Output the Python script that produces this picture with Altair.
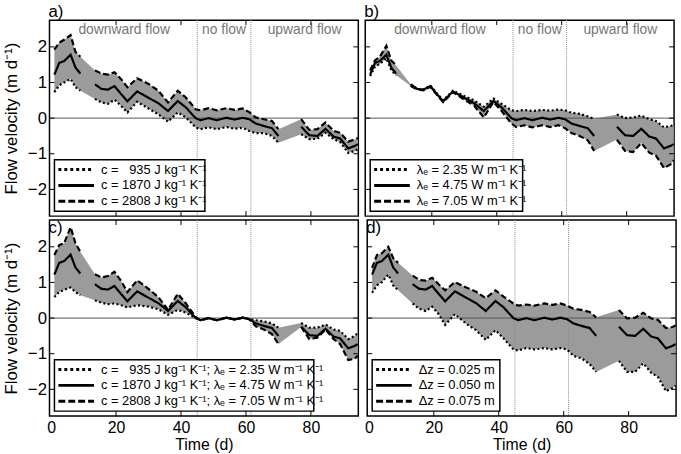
import altair as alt
import pandas as pd

# Sampling days of the estimated flow velocities (three logging periods with gaps)
DAYS = [1, 2.5, 4, 6, 7.5, 9,
        13.5, 15.5, 17.5, 19.5, 21.5, 23.5, 26.5, 30, 33, 36, 39, 41.5, 44.5, 46,
        48.5, 51, 54, 56.5, 59, 61, 63, 65.5, 68, 70,
        77, 79.5, 82, 84.5, 87, 89, 91.5, 93.5, 94.5]
SEGMENT = [1] * 6 + [2] * 24 + [3] * 9

# Base case: c = 1870 J/kg/K, lambda_e = 4.75 W/m/K, dz = 0.050 m
BASE = [1.22, 1.55, 1.60, 1.78, 1.42, 1.25,
        0.95, 0.82, 0.80, 0.90, 0.68, 0.47, 0.75, 0.57, 0.42, 0.20, 0.48, 0.30, 0.00, -0.06,
        0.00, -0.06, 0.01, -0.04, 0.01, -0.03, -0.15, -0.22, -0.28, -0.50,
        -0.24, -0.48, -0.50, -0.30, -0.52, -0.57, -0.85, -0.78, -0.73]

# a) heat capacity
A_C935 = [0.73, 0.92, 1.00, 1.10, 0.87, 0.77,
          0.54, 0.44, 0.40, 0.52, 0.35, 0.16, 0.46, 0.27, 0.11, -0.10, 0.16, 0.02, -0.26, -0.31,
          -0.26, -0.31, -0.25, -0.30, -0.27, -0.36, -0.42, -0.42, -0.50, -0.69,
          -0.45, -0.59, -0.58, -0.41, -0.59, -0.67, -0.98, -0.92, -0.87]
A_C2808 = [1.92, 2.12, 2.20, 2.33, 1.86, 1.72,
           1.34, 1.25, 1.22, 1.29, 1.10, 0.87, 1.12, 0.96, 0.77, 0.44, 0.77, 0.58, 0.25, 0.22,
           0.28, 0.22, 0.28, 0.23, 0.27, 0.17, 0.02, -0.03, -0.08, -0.31,
           -0.03, -0.33, -0.31, -0.12, -0.36, -0.41, -0.66, -0.60, -0.56]

# b) thermal conductivity
B_L235 = [1.18, 1.45, 1.52, 1.68, 1.35, 1.20,
          0.93, 0.82, 0.81, 0.92, 0.70, 0.50, 0.77, 0.62, 0.50, 0.32, 0.55, 0.40, 0.22, 0.20,
          0.23, 0.20, 0.23, 0.21, 0.24, 0.22, 0.15, 0.12, 0.05, -0.02,
          0.10, 0.00, 0.02, 0.07, -0.03, -0.08, -0.26, -0.22, -0.20]
B_L705 = [1.34, 1.62, 1.72, 2.03, 1.62, 1.48,
          0.90, 0.80, 0.78, 0.88, 0.66, 0.45, 0.73, 0.52, 0.35, 0.02, 0.45, 0.20, -0.15, -0.25,
          -0.20, -0.26, -0.20, -0.25, -0.20, -0.28, -0.42, -0.50, -0.62, -0.92,
          -0.60, -0.92, -0.95, -0.70, -0.97, -1.05, -1.40, -1.30, -1.18]

# c) heat capacity and thermal conductivity combined
C_LOW = [0.59, 0.73, 0.79, 0.86, 0.73, 0.64,
         0.50, 0.43, 0.39, 0.41, 0.36, 0.30, 0.36, 0.32, 0.25, 0.09, 0.23, 0.15, 0.00, -0.06,
         0.00, -0.06, 0.01, -0.04, 0.01, -0.03, -0.06, -0.09, -0.15, -0.27,
         -0.14, -0.27, -0.27, -0.18, -0.32, -0.36, -0.59, -0.50, -0.41]
C_HIGH = [1.77, 2.05, 2.10, 2.55, 2.10, 1.86,
          1.23, 1.14, 1.18, 1.30, 1.05, 0.73, 1.06, 0.82, 0.59, 0.23, 0.68, 0.41, 0.03, -0.06,
          0.00, -0.06, 0.01, -0.04, 0.01, -0.03, -0.23, -0.32, -0.45, -0.73,
          -0.25, -0.59, -0.55, -0.32, -0.59, -0.73, -1.18, -1.14, -1.05]

# d) sensor spacing
D_DZ025 = [0.71, 0.92, 1.01, 1.22, 0.92, 0.78,
           0.41, 0.26, 0.20, 0.32, 0.11, -0.19, 0.11, -0.16, -0.34, -0.61, -0.34, -0.57, -0.88, -0.91,
           -0.84, -0.88, -0.84, -0.88, -0.84, -0.88, -1.06, -1.13, -1.29, -1.51,
           -1.20, -1.51, -1.51, -1.27, -1.54, -1.65, -2.05, -1.96, -1.90]
D_DZ075 = [1.41, 1.77, 1.82, 2.00, 1.68, 1.55,
           1.19, 1.07, 1.05, 1.13, 0.95, 0.78, 1.01, 0.86, 0.74, 0.56, 0.78, 0.60, 0.41, 0.35,
           0.38, 0.35, 0.41, 0.37, 0.41, 0.35, 0.26, 0.23, 0.17, 0.02,
           0.23, -0.01, 0.01, 0.15, -0.01, -0.05, -0.28, -0.25, -0.21]

# Flow regimes
REGIME_EDGES = [0, 45, 61.5, 94.6]
REGIME_NAMES = ["downward flow", "no flow", "upward flow"]

X_TICKS = [0, 20, 40, 60, 80]
Y_TICKS = [-2, -1, 0, 1, 2]

LEGEND_A = ["c = \u2007935 J kg\u207b\u00b9 K\u207b\u00b9",
            "c = 1870 J kg\u207b\u00b9 K\u207b\u00b9",
            "c = 2808 J kg\u207b\u00b9 K\u207b\u00b9"]
LEGEND_B = ["\u03bb\u2091 = 2.35 W m\u207b\u00b9 K\u207b\u00b9",
            "\u03bb\u2091 = 4.75 W m\u207b\u00b9 K\u207b\u00b9",
            "\u03bb\u2091 = 7.05 W m\u207b\u00b9 K\u207b\u00b9"]
LEGEND_C = ["c = \u2007935 J kg\u207b\u00b9 K\u207b\u00b9; \u03bb\u2091 = 2.35 W m\u207b\u00b9 K\u207b\u00b9",
            "c = 1870 J kg\u207b\u00b9 K\u207b\u00b9; \u03bb\u2091 = 4.75 W m\u207b\u00b9 K\u207b\u00b9",
            "c = 2808 J kg\u207b\u00b9 K\u207b\u00b9; \u03bb\u2091 = 7.05 W m\u207b\u00b9 K\u207b\u00b9"]
LEGEND_D = ["\u0394z = 0.025 m", "\u0394z = 0.050 m", "\u0394z = 0.075 m"]

W, H = 312, 198
FONT = "Liberation Sans"
SERIES = ["low", "base", "high"]
PLOT_DASH = [[2, 2.5], [1, 0], [6, 3]]
KEY_DASH = [[3, 3], [1, 0], [7, 3]]

dummy = pd.DataFrame({"k": [0]})


def panel(low, high, labels, box_w, tag, top, left):
    xs = alt.Scale(domain=[-0.5, 94.6], nice=False, zero=False)
    ys = alt.Scale(domain=[-2.75, 2.75], nice=False, zero=False)
    xaxis = None if top else alt.Axis(values=X_TICKS, title="Time (d)", ticks=False, domain=False,
                                      grid=False, labelFontSize=16, titleFontSize=16,
                                      titleFontWeight="normal", labelFont=FONT, titleFont=FONT,
                                      labelPadding=4, titlePadding=1, format="d")
    yaxis = alt.Axis(values=Y_TICKS, title="Flow velocity (m d\u207b\u00b9)", ticks=False,
                     domain=False, grid=False, labelFontSize=17, titleFontSize=17,
                     titleFontWeight="normal", labelFont=FONT, titleFont=FONT,
                     labelPadding=3, titlePadding=7, format="d") if left else None

    def X(field="day"):
        return alt.X(f"{field}:Q", scale=xs, axis=xaxis)

    def Y(field="v"):
        return alt.Y(f"{field}:Q", scale=ys, axis=yaxis)

    rows = []
    for name, vals in zip(SERIES, (low, BASE, high)):
        for d, s, v in zip(DAYS, SEGMENT, vals):
            rows.append({"day": d, "seg": s, "v": v, "series": name})
    lines_df = pd.DataFrame(rows)
    band_df = pd.DataFrame({
        "day": DAYS,
        "v": [min(t) for t in zip(low, BASE, high)],
        "hi": [max(t) for t in zip(low, BASE, high)],
    })

    layers = []
    layers.append(alt.Chart(band_df).mark_area(color="#9b9b9b", opacity=1)
                  .encode(x=X(), y=Y(), y2="hi:Q"))
    layers.append(alt.Chart(pd.DataFrame({"v": [0]}))
                  .mark_rule(color="#555555", strokeWidth=1).encode(y=Y()))
    layers.append(alt.Chart(pd.DataFrame({"day": REGIME_EDGES[1:3]}))
                  .mark_rule(color="#8a8a8a", strokeWidth=1, strokeDash=[1, 1]).encode(x=X()))
    layers.append(alt.Chart(lines_df).mark_line(color="black", strokeWidth=2.2).encode(
        x=X(), y=Y(),
        strokeDash=alt.StrokeDash("series:N", scale=alt.Scale(domain=SERIES, range=PLOT_DASH),
                                  legend=None),
        detail="seg:N", order="day:Q"))

    if top:
        centers = [(REGIME_EDGES[i] + REGIME_EDGES[i + 1]) / 2 for i in range(3)]
        reg_df = pd.DataFrame({"day": centers, "name": REGIME_NAMES})
        layers.append(alt.Chart(reg_df).mark_text(fontSize=14, color="#777777", font=FONT,
                                                  baseline="middle")
                      .encode(x=X(), y=alt.value(10), text="name:N"))

    # key box
    layers.append(alt.Chart(dummy).mark_rect(fill="white", stroke="black", strokeWidth=1.5)
                  .encode(x=alt.value(5), x2=alt.value(5 + box_w),
                          y=alt.value(141), y2=alt.value(193)))
    for i, (lab, dash) in enumerate(zip(labels, KEY_DASH)):
        yy = 151 + 16 * i
        layers.append(alt.Chart(dummy).mark_rule(color="black", strokeWidth=3, strokeDash=dash)
                      .encode(x=alt.value(9), x2=alt.value(45), y=alt.value(yy)))
        layers.append(alt.Chart(dummy).mark_text(align="left", baseline="middle", fontSize=13,
                                                 font=FONT, color="black")
                      .encode(x=alt.value(52), y=alt.value(yy), text=alt.value(lab)))

    # inward ticks on all four sides
    xt = pd.DataFrame({"day": X_TICKS[1:]})
    yt = pd.DataFrame({"v": Y_TICKS})
    layers.append(alt.Chart(xt).mark_rule(color="black", strokeWidth=1)
                  .encode(x=X(), y=alt.value(H), y2=alt.value(H - 5)))
    layers.append(alt.Chart(xt).mark_rule(color="black", strokeWidth=1)
                  .encode(x=X(), y=alt.value(0), y2=alt.value(5)))
    layers.append(alt.Chart(yt).mark_rule(color="black", strokeWidth=1)
                  .encode(y=Y(), x=alt.value(0), x2=alt.value(5)))
    layers.append(alt.Chart(yt).mark_rule(color="black", strokeWidth=1)
                  .encode(y=Y(), x=alt.value(W), x2=alt.value(W - 5)))

    layers.append(alt.Chart(dummy).mark_text(align="left", baseline="alphabetic", fontSize=17,
                                             font=FONT, color="black")
                  .encode(x=alt.value(-1), y=alt.value(-3 if top else 13), text=alt.value(tag)))

    return alt.layer(*layers).properties(width=W, height=H)


pa = panel(A_C935, A_C2808, LEGEND_A, 152, "a)", True, True)
pb = panel(B_L235, B_L705, LEGEND_B, 154, "b)", True, False)
pc = panel(C_LOW, C_HIGH, LEGEND_C, 262, "c)", False, True)
pd_ = panel(D_DZ025, D_DZ075, LEGEND_D, 129, "d)", False, False)

chart = alt.vconcat(
    alt.hconcat(pa, pb, spacing=0),
    alt.hconcat(pc, pd_, spacing=0),
    spacing=0,
).properties(
    padding={"left": 1, "top": 0, "right": 0, "bottom": 0}
).configure(
    font=FONT
).configure_view(
    stroke="black", strokeWidth=1.5
).configure_axis(
    labelFont=FONT, titleFont=FONT, labelColor="black", titleColor="black",
    titleFontWeight="normal"
)

chart.save("out.html", embed_options={"renderer": "svg", "actions": False})
